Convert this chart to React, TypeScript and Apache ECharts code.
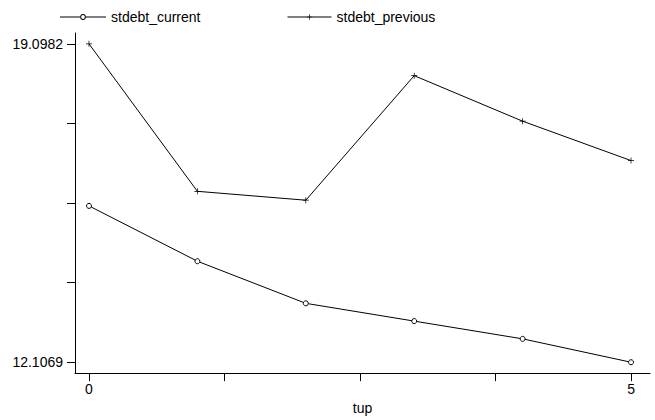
import React, { useEffect, useRef } from "react";
import * as echarts from "echarts";

const tup = [0, 1, 2, 3, 4, 5];
const stdebtCurrent = [15.54, 14.325, 13.4, 13.01, 12.62, 12.1069];
const stdebtPrevious = [19.0982, 15.86, 15.665, 18.4, 17.4, 16.535];
const xTickValues = [0, 1.25, 2.5, 3.75, 5];
const xLabelValues = [0, 5];
const yTickValues = [12.1069, 13.854725, 15.60255, 17.350375, 19.0982];
const yLabelValues = [12.1069, 19.0982];

const PLUS = "path://M4.4,0h1.2v4.4h4.4v1.2h-4.4v4.4h-1.2v-4.4h-4.4v-1.2h4.4z";
// legend glyph: line – hollow circle – line (46 x 6 box)
const LINE_CIRCLE =
  "path://M0,2.5h20.2v1h-20.2z M25.8,2.5h20.2v1h-20.2z " +
  "M25.8,3A2.8,2.8 0 1 0 20.2,3A2.8,2.8 0 1 0 25.8,3Z " +
  "M24.9,3A1.9,1.9 0 1 1 21.1,3A1.9,1.9 0 1 1 24.9,3Z";
const FONT = "Liberation Sans, Arial, Helvetica, sans-serif";

export default function App() {
  const ref = useRef<HTMLDivElement>(null);
  useEffect(() => {
    if (!ref.current) return;
    const chart = echarts.init(ref.current, null, { renderer: "svg" });
    const mk = (arr: number[]) => tup.map((x, i) => [x, arr[i]]);
    const legendBase = {
      top: 5,
      lineStyle: { width: 1, color: "#000" },
      textStyle: { fontFamily: FONT, fontSize: 14, color: "#000" },
    };
    chart.setOption({
      animation: false,
      backgroundColor: "#fff",
      textStyle: { fontFamily: FONT },
      grid: { left: 75, right: 5, top: 33, bottom: 43, containLabel: false },
      legend: [
        {
          ...legendBase,
          data: [{ name: "stdebt_current", icon: LINE_CIRCLE }],
          left: 55,
          itemWidth: 46,
          itemHeight: 6,
          symbolKeepAspect: false,
          itemStyle: { color: "#000", borderWidth: 0 },
        },
        {
          ...legendBase,
          data: ["stdebt_previous"],
          left: 282,
          itemWidth: 44,
          itemHeight: 7,
        },
      ],
      xAxis: {
        type: "value",
        min: -0.129,
        max: 5.175,
        name: "tup",
        nameLocation: "middle",
        nameGap: 18,
        nameTextStyle: { fontFamily: FONT, fontSize: 14, color: "#000" },
        splitLine: { show: false },
        axisLine: { show: true, onZero: false, lineStyle: { color: "#000", width: 1 } },
        axisTick: { show: true, length: 8, customValues: xTickValues, lineStyle: { color: "#000" } },
        axisLabel: {
          show: true,
          customValues: xLabelValues,
          margin: 9,
          fontFamily: FONT,
          fontSize: 14,
          color: "#000",
          formatter: (v: number) => String(Math.round(v)),
        },
      },
      yAxis: {
        type: "value",
        min: 11.868,
        max: 19.337,
        splitLine: { show: false },
        axisLine: { show: true, onZero: false, lineStyle: { color: "#000", width: 1 } },
        axisTick: { show: true, length: 8, customValues: yTickValues, lineStyle: { color: "#000" } },
        axisLabel: {
          show: true,
          customValues: yLabelValues,
          margin: 12,
          fontFamily: FONT,
          fontSize: 14,
          color: "#000",
          formatter: (v: number) => v.toFixed(4),
        },
      },
      series: [
        {
          name: "stdebt_current",
          type: "line",
          data: mk(stdebtCurrent),
          symbol: "circle",
          symbolSize: 5,
          showAllSymbol: true,
          lineStyle: { color: "#000", width: 1 },
          itemStyle: { color: "#fff", borderColor: "#000", borderWidth: 1 },
        },
        {
          name: "stdebt_previous",
          type: "line",
          data: mk(stdebtPrevious),
          symbol: PLUS,
          symbolSize: 6,
          showAllSymbol: true,
          lineStyle: { color: "#000", width: 1 },
          itemStyle: { color: "#000" },
        },
      ],
    });
    return () => chart.dispose();
  }, []);
  return <div ref={ref} style={{ position: "fixed", left: 0, top: 0, width: 655, height: 420 }} />;
}
